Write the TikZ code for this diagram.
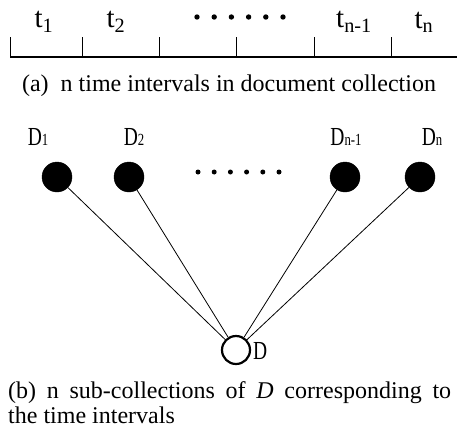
\documentclass[tikz,border=0pt]{standalone}
\usepackage{fontspec}
\setmainfont{Liberation Serif}
\usepackage{tikz}

\tikzset{
  blob/.style={circle,fill=black,draw=black,inner sep=0pt,minimum size=30pt},
  hollow/.style={circle,fill=white,draw=black,line width=2.2pt,inner sep=0pt,minimum size=28pt},
  dlabel/.style={font=\fontsize{26}{26}\selectfont,xscale=0.75,inner sep=0pt},
  tlabel/.style={font=\fontsize{29}{29}\selectfont,inner sep=0pt},
  caption/.style={font=\fontsize{24}{25}\selectfont,inner sep=0pt}
}
\newcommand{\sml}[1]{{\fontsize{17}{17}\selectfont #1}}

\begin{document}
\begin{tikzpicture}[x=1pt,y=-1pt]
\useasboundingbox (0,0) rectangle (457,437);

% time line
\draw[line width=2pt] (10,57) -- (457,57);
\foreach \x in {10,82,159,236,314,391}
  \draw[line width=0.8pt] (\x,37) -- (\x,57);
\node[tlabel] (t1) at (44,22) {t\textsubscript{1}};
\node[tlabel] (t2) at (116,22) {t\textsubscript{2}};
\node[tlabel] (tm) at (354,22) {t\textsubscript{n-1}};
\node[tlabel] (tn) at (424,22) {t\textsubscript{n}};
\foreach \x in {197,214.2,231.4,248.6,265.8,283}
  \fill (\x,17) circle (2.7pt);
\node[caption] (capa) at (229,86) {(a)\ \ n time intervals in document collection};

% sub-collections
\node[dlabel] (l1) at (38,137) {D\sml{1}};
\node[dlabel] (l2) at (134,137) {D\sml{2}};
\node[dlabel] (lm) at (346,137) {D\sml{n-1}};
\node[dlabel] (ln) at (432,137) {D\sml{n}};
\node[blob] (d1) at (57,177) {};
\node[blob] (d2) at (129,177) {};
\node[blob] (dm) at (345,177) {};
\node[blob] (dn) at (420,177) {};
\foreach \x in {198,214.2,230.4,246.6,262.8,279}
  \fill (\x,172) circle (2.5pt);
\node[hollow] (d0) at (236,350) {};
\node[dlabel,anchor=west] (l0) at (253,351) {D};
\foreach \n in {d1,d2,dm,dn}
  \draw[line width=0.8pt] (\n) -- (d0);

\node[caption,anchor=north west,text width=443pt,align=justify] (capb) at (8,381)
  {(b) n sub-collections of \textit{D} corresponding to\linebreak the time intervals};
\end{tikzpicture}
\end{document}
